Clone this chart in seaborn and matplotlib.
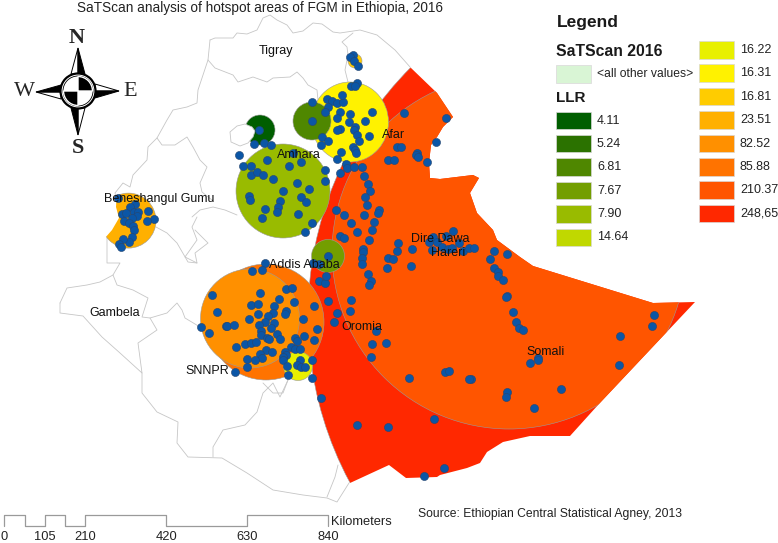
import matplotlib
matplotlib.use("Agg")
import matplotlib.pyplot as plt
import seaborn as sns
import pandas as pd
from matplotlib.patches import Ellipse, Polygon, Rectangle, Wedge, Circle

# map is traced in image pixels, so the axes run 0-778 / 543-0
TITLE = "SaTScan analysis of hotspot areas of FGM in Ethiopia, 2016"
SOURCE = "Source: Ethiopian Central Statistical Agney, 2013"

# ── legend ─────────────────────────────────────────────────
LLR_LABELS = ["4.11", "5.24", "6.81", "7.67", "7.90", "14.64", "16.22",
              "16.31", "16.81", "23.51", "82.52", "85.88", "210.37", "248,65"]
LLR_COLORS = ["#005e00", "#2b7200", "#4f8700", "#739e00", "#99bb00", "#c0d800", "#e8f000",
              "#fff200", "#ffcc00", "#ffb000", "#ff9000", "#ff7300", "#ff5500", "#ff2800"]

# ── clusters: llr label, centre x, centre y, width, height ─
CLUSTERS = [
    ("248,65", 660, 316, 704, 704),
    ("210.37", 509, 252, 354, 354),
    ("16.31", 350, 122, 77, 80),
    ("6.81", 312, 121, 38, 38),
    ("4.11", 260, 130, 30, 30),
    ("7.90", 283, 191, 94, 94),
    ("7.67", 328, 256, 33, 33),
    ("85.88", 266, 322, 116, 116),
    ("82.52", 250, 318.5, 99, 99),
    ("16.22", 298, 366, 29, 29),
    ("16.81", 355, 61, 14, 14),
    ("23.51", 128.5, 220.6, 55, 55),
]

# country edge on the east side, used to cut the big clusters
EAST_EDGE = [(380, 40), (410, 67), (437, 93), (453, 117), (443, 127), (437, 137), (431, 145),
             (429, 163), (430, 178), (440, 179), (473, 175), (479, 178), (470, 193), (477, 213),
             (493, 230), (497, 240), (520, 257), (533, 266), (640, 299), (653, 303), (695, 302),
             (598, 405), (570, 436), (530, 436), (503, 442), (487, 452), (480, 463), (467, 468),
             (440, 475), (437, 477), (406, 478), (389, 465), (350, 483), (200, 483), (200, 40)]
WEST_CUT = [(117, 190), (160, 190), (160, 255), (100, 255), (105, 238), (112, 230), (119, 218),
            (116, 207)]
LAKE = [(245, 124), (237, 126), (230, 132), (231, 142), (240, 146), (248, 143), (253, 137),
        (255, 131), (252, 127)]

# ── admin borders (grey lines) ─────────────────────────────
BORDERS = [
    [(210, 40), (215, 38), (225, 38), (233, 38), (237, 33), (247, 34), (257, 30), (263, 18), (270, 15),
     (277, 20), (287, 25), (293, 33), (303, 31), (313, 23), (322, 24), (333, 32), (340, 33), (360, 30),
     (377, 35), (395, 50), (410, 67)],
    [(210, 40), (208, 60), (215, 68), (233, 75), (238, 82), (253, 77), (267, 82), (273, 78), (290, 77),
     (297, 72), (303, 78), (308, 85), (317, 90), (318, 100)],
    [(353, 33), (342, 42), (347, 47), (348, 55), (345, 70), (348, 82)],
    [(208, 60), (198, 90), (197, 103), (187, 107), (173, 110), (167, 120), (157, 138), (148, 147),
     (147, 160), (133, 175), (130, 187), (123, 183), (115, 193), (117, 200)],
    [(157, 138), (162, 145), (175, 145), (187, 137), (193, 147), (200, 160), (207, 167), (200, 183),
     (202, 192), (212, 200)],
    [(192, 217), (200, 210), (213, 207), (225, 210), (237, 215)],
    [(197, 217), (192, 227), (197, 240), (185, 257), (197, 263)],
    [(156, 227), (167, 233), (177, 243), (188, 262), (197, 263), (195, 253), (208, 243), (195, 230)],
    [(107, 238), (107, 263), (120, 263), (113, 275)],
    [(60, 303), (67, 288), (87, 285), (100, 282), (113, 275), (117, 285), (133, 290), (148, 298),
     (142, 317), (150, 318), (167, 313), (177, 303), (182, 310), (185, 318), (200, 327)],
    [(60, 303), (60, 313), (83, 316), (102, 337), (120, 353), (142, 373), (138, 343), (157, 330), (150, 318)],
    [(142, 373), (142, 393), (157, 412), (178, 422), (177, 443), (188, 457), (222, 458), (247, 473),
     (273, 490), (303, 495), (327, 498), (337, 502), (349, 483)],
    [(213, 457), (213, 447), (223, 430), (245, 425), (257, 412), (263, 393), (273, 383), (280, 397), (288, 380)],
    [(263, 383), (273, 393), (283, 393), (288, 380)],
    [(327, 497), (335, 477), (338, 465)],
]

# ── survey points, grouped by area ─────────────────────────
PTS_NORTH = [(353, 55), (350, 57), (354, 61), (358, 66), (357, 83), (351, 86), (355, 86)]
PTS_YELLOW = [(312, 102), (327, 99), (332, 101), (337, 103), (343, 102), (342, 95), (328, 107), (325, 112),
              (340, 112), (350, 114), (372, 112), (337, 118), (312, 121), (349, 122), (365, 121), (340, 129),
              (337, 130), (355, 127), (354, 130), (357, 135), (369, 136), (322, 137), (328, 141), (321, 145),
              (359, 141), (353, 147), (355, 150), (356, 153), (341, 152), (337, 159)]
PTS_AMHARA = [(259, 130), (254, 144), (264, 143), (271, 145), (239, 155), (293, 153), (243, 166), (251, 166),
              (267, 160), (289, 166), (301, 162), (325, 170), (251, 175), (257, 172), (263, 175), (273, 179),
              (325, 181), (297, 183), (309, 189), (283, 191), (249, 196), (250, 200), (301, 197), (306, 202),
              (280, 201), (278, 207), (277, 212), (265, 209), (262, 218), (298, 214), (312, 223), (305, 232)]
PTS_ADDIS = [(328, 256), (313, 263), (319, 264)]
PTS_BENI = [(118, 198), (135, 204), (130, 207), (122, 214), (126, 213), (134, 212), (138, 212), (137, 216),
            (148, 211), (154, 219), (147, 221), (124, 221), (132, 218), (129, 223), (133, 226), (134, 230),
            (132, 237), (129, 242), (123, 239), (119, 244), (121, 247)]
PTS_AFAR = [(346, 164), (347, 168), (354, 167), (362, 167), (340, 173), (404, 113), (446, 118), (436, 142),
            (397, 147), (401, 147), (417, 153), (416, 155), (418, 157), (427, 162), (388, 160), (394, 160),
            (364, 176), (368, 184), (370, 191), (365, 197), (367, 205), (379, 210), (378, 213), (364, 215),
            (344, 215), (336, 210), (374, 222), (351, 223), (372, 230), (357, 232), (340, 236), (344, 238),
            (369, 240), (398, 243), (397, 251), (412, 249), (363, 249), (363, 252), (362, 258), (362, 264),
            (388, 258), (393, 259), (387, 268), (411, 266), (368, 274), (371, 281), (369, 285)]
PTS_DIRE = [(453, 231), (433, 237), (429, 242), (437, 242), (446, 236), (442, 247), (448, 249), (452, 248),
            (459, 243), (432, 250), (463, 251), (469, 248), (474, 248), (494, 251), (507, 254), (490, 259),
            (494, 268), (498, 272), (498, 276), (503, 280), (507, 296), (506, 297), (513, 312), (516, 322),
            (519, 328), (523, 330)]
PTS_SOMALI = [(654, 315), (652, 326), (620, 336), (538, 358), (538, 360), (530, 363), (619, 365), (471, 379),
              (561, 389), (507, 392), (506, 397), (534, 408)]
PTS_SOUTH = [(319, 281), (325, 283), (326, 276), (328, 301), (351, 300), (337, 313), (350, 311), (334, 322),
             (376, 331), (372, 344), (386, 343), (371, 357), (409, 378), (445, 372), (449, 371), (469, 379),
             (312, 378), (321, 398), (357, 425), (388, 427), (434, 419), (444, 468), (424, 476)]
PTS_SNNPR = [(265, 263), (252, 271), (262, 270), (286, 289), (292, 288), (260, 293), (212, 295), (294, 302),
             (251, 305), (258, 304), (279, 299), (274, 306), (314, 306), (217, 312), (258, 314), (273, 313),
             (268, 316), (286, 311), (285, 314), (249, 319), (303, 319), (265, 322), (274, 323), (259, 325),
             (226, 326), (227, 326), (234, 325), (201, 327), (209, 333), (271, 328), (261, 331), (261, 335),
             (277, 334), (317, 329), (304, 336), (267, 338), (269, 339), (280, 339), (295, 338), (297, 341),
             (314, 340), (245, 344), (251, 343), (256, 342), (236, 347), (291, 347), (295, 349), (300, 349),
             (266, 350), (272, 352), (260, 354), (285, 352), (286, 355), (262, 358), (283, 357), (283, 360),
             (247, 359), (255, 360), (312, 360), (300, 360), (297, 365), (301, 367), (305, 367), (287, 366),
             (247, 367), (235, 372), (288, 375)]

# region names: text, x, y
REGIONS = [("Tigray", 276, 51), ("Afar", 394, 135), ("Amhara", 299, 155), ("Beneshangul Gumu", 159, 199),
           ("Addis Ababa", 304, 265), ("Gambela", 115, 313), ("Oromia", 362, 327), ("SNNPR", 207, 371),
           ("Dire Dawa", 440, 239), ("Hareri", 448, 253), ("Somali", 546, 352)]

SCALE_STEPS = [0, 52.5, 105, 157.5, 210, 420, 630, 840]
SCALE_LABELS = [0, 105, 210, 420, 630, 840]

sns.set_theme(style="white")
plt.rcParams["font.family"] = ["Liberation Sans", "DejaVu Sans"]

fig = plt.figure(figsize=(7.78, 5.43), dpi=100)
ax = fig.add_axes([0, 0, 1, 1])
ax.set_xlim(0, 778)
ax.set_ylim(543, 0)
ax.axis("off")

# borders
for line in BORDERS:
    ax.plot([p[0] for p in line], [p[1] for p in line], color="#c6c6c6", lw=0.6, zorder=1)

# clusters
color_of = dict(zip(LLR_LABELS, LLR_COLORS))
east_clip = Polygon(EAST_EDGE, transform=ax.transData)
west_clip = Polygon(WEST_CUT, transform=ax.transData)
for i, (llr, cx, cy, w, h) in enumerate(CLUSTERS):
    e = Ellipse((cx, cy), w, h, facecolor=color_of[llr], edgecolor="#9a9a9a", lw=0.4, zorder=2 + i * 0.01)
    ax.add_patch(e)
    if llr in ("248,65", "210.37"):
        e.set_clip_path(east_clip)
    if llr == "23.51":
        e.set_clip_path(west_clip)

# Lake Tana cuts the dark green cluster
ax.add_patch(Polygon(LAKE, closed=True, facecolor="white", edgecolor="#c6c6c6", lw=0.6, zorder=2.5))

# points
all_pts = (PTS_NORTH + PTS_YELLOW + PTS_AMHARA + PTS_ADDIS + PTS_BENI + PTS_AFAR
           + PTS_DIRE + PTS_SOMALI + PTS_SOUTH + PTS_SNNPR)
pts = pd.DataFrame(all_pts, columns=["x", "y"])
sns.scatterplot(data=pts, x="x", y="y", ax=ax, s=34, color="#0b56a6", edgecolor="#27466e",
                linewidth=0.4, zorder=3, legend=False)
ax.set_xlim(0, 778)
ax.set_ylim(543, 0)
ax.axis("off")

for name, x, y in REGIONS:
    ax.text(x, y, name, fontsize=9, color="#111111", ha="center", va="center", zorder=4)

ax.text(260, 8, TITLE, fontsize=9.8, color="#222222", ha="center", va="center")
ax.text(418, 514, SOURCE, fontsize=8.75, color="#222222", ha="left", va="center")

# legend
ax.text(557, 22, "Legend", fontsize=12.5, fontweight="bold", color="#1a1a1a", va="center")
ax.text(556, 51, "SaTScan 2016", fontsize=11.3, fontweight="bold", color="#1a1a1a", va="center")
ax.text(556, 98, "LLR", fontsize=11, fontweight="bold", color="#1a1a1a", va="center")
ax.add_patch(Rectangle((556, 65), 35, 17.5, facecolor="#d9f5d5", edgecolor="#dddddd", lw=0.6))
ax.text(597, 74, "<all other values>", fontsize=8.7, color="#222222", va="center")
for i, (lab, col) in enumerate(zip(LLR_LABELS, LLR_COLORS)):
    if i < 6:
        x0, y0 = 556, 111.5 + 23.4 * i
    else:
        x0, y0 = 699, 41 + 23.4 * (i - 6)
    ax.add_patch(Rectangle((x0, y0), 35, 17.5, facecolor=col, edgecolor="#d8d8d8", lw=0.5))
    ax.text(x0 + 41, y0 + 9, lab, fontsize=9, color="#222222", va="center")

# scale bar, a square wave between y 515 and 526
km_px = 323.7 / 840
scale_x = []
scale_y = []
level = 526
for k in SCALE_STEPS:
    px = 4.3 + k * km_px
    scale_x += [px, px]
    scale_y += [level, 1041 - level]
    level = 1041 - level
ax.plot(scale_x, scale_y, color="#9a9a9a", lw=0.9)
for k in SCALE_LABELS:
    ax.text(4.3 + k * km_px, 537, str(k), fontsize=9.3, color="#222222", ha="center", va="center")
ax.text(331, 522, "Kilometers", fontsize=9.3, color="#222222", ha="left", va="center")

# compass
cx, cy = 78, 91
blk = [[(78, 48), (85, 74), (78, 74)], [(78, 135), (71, 108), (78, 108)],
       [(36, 92), (61, 85), (61, 92)], [(119, 91), (95, 98), (95, 91)]]
wht = [[(78, 48), (71, 74), (78, 74)], [(78, 135), (85, 108), (78, 108)],
       [(36, 92), (61, 99), (61, 92)], [(119, 91), (95, 84), (95, 91)]]
for tri in wht:
    ax.add_patch(Polygon(tri, facecolor="white", edgecolor="black", lw=0.7, zorder=5))
for tri in blk:
    ax.add_patch(Polygon(tri, facecolor="black", edgecolor="black", lw=0.7, zorder=5))
ax.add_patch(Circle((cx, cy), 17.5, facecolor="white", edgecolor="black", lw=1.6, zorder=6))
ax.add_patch(Circle((cx, cy), 15, facecolor="white", edgecolor="black", lw=0.6, zorder=6))
ax.add_patch(Wedge((cx, cy), 14.5, 270, 360, facecolor="black", zorder=7))
ax.add_patch(Wedge((cx, cy), 14.5, 90, 180, facecolor="black", zorder=7))
ax.text(77, 38, "N", fontsize=16, fontweight="bold", family="Liberation Serif", ha="center", va="center")
ax.text(78, 148, "S", fontsize=16, family="Liberation Serif", fontweight="bold", ha="center", va="center")
ax.text(24, 92, "W", fontsize=16, family="Liberation Serif", ha="center", va="center")
ax.text(130, 92, "E", fontsize=16, family="Liberation Serif", ha="center", va="center")

fig.savefig("out.png", dpi=100)
plt.close(fig)
